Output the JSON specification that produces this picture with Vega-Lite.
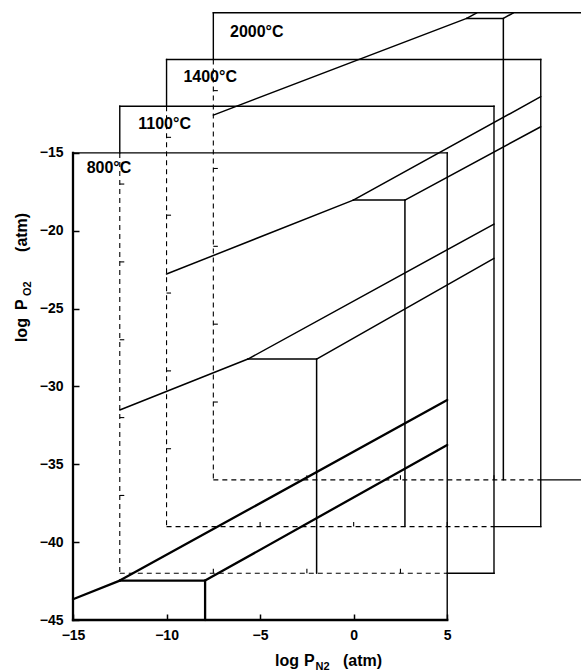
{
  "$schema": "https://vega.github.io/schema/vega-lite/v6.json",
  "width": 508,
  "height": 615,
  "autosize": {"type": "none"},
  "padding": {"left": 73, "top": 5, "right": 0, "bottom": 51},
  "background": "white",
  "config": {
    "view": {"stroke": null},
    "axis": {
      "domain": false,
      "grid": false,
      "tickColor": "black",
      "tickWidth": 1.5,
      "tickSize": -6,
      "labelFont": "Liberation Sans",
      "labelFontSize": 14,
      "labelFontWeight": "bold",
      "labelColor": "black",
      "labelOverlap": false,
      "labelFlush": false
    }
  },
  "datasets": {
    "hidden": [
      {"x": -12.5, "y": -15, "x2": -12.5, "y2": -42},
      {"x": -12.5, "y": -42, "x2": 5, "y2": -42},
      {"x": -10, "y": -12, "x2": -10, "y2": -39},
      {"x": -10, "y": -39, "x2": 7.5, "y2": -39},
      {"x": -7.5, "y": -9, "x2": -7.5, "y2": -36},
      {"x": -7.5, "y": -36, "x2": 10, "y2": -36}
    ],
    "visible": [
      {"x": -15, "y": -15, "x2": 5, "y2": -15},
      {"x": 5, "y": -15, "x2": 5, "y2": -45},
      {"x": -12.5, "y": -12, "x2": -12.5, "y2": -15},
      {"x": -12.5, "y": -12, "x2": 7.5, "y2": -12},
      {"x": 7.5, "y": -12, "x2": 7.5, "y2": -42},
      {"x": 5, "y": -42, "x2": 7.5, "y2": -42},
      {"x": -10, "y": -9, "x2": -10, "y2": -12},
      {"x": -10, "y": -9, "x2": 10, "y2": -9},
      {"x": 10, "y": -9, "x2": 10, "y2": -39},
      {"x": 7.5, "y": -39, "x2": 10, "y2": -39},
      {"x": -7.5, "y": -6, "x2": -7.5, "y2": -9},
      {"x": -7.5, "y": -6, "x2": 12.5, "y2": -6},
      {"x": 10, "y": -36, "x2": 12.5, "y2": -36}
    ],
    "frontAxes": [
      {"x": -15, "y": -45, "x2": -15, "y2": -15},
      {"x": -15, "y": -45, "x2": 5, "y2": -45}
    ],
    "phaseFront": [
      {"x": -15, "y": -43.67, "x2": -12.5, "y2": -42.47},
      {"x": -12.5, "y": -42.47, "x2": 5, "y2": -30.87},
      {"x": -12.5, "y": -42.47, "x2": -7.94, "y2": -42.47},
      {"x": -7.94, "y": -42.47, "x2": -7.94, "y2": -45},
      {"x": -7.94, "y": -42.47, "x2": 5, "y2": -33.76}
    ],
    "phaseBack": [
      {"x": -12.5, "y": -31.51, "x2": -5.65, "y2": -28.24},
      {"x": -5.65, "y": -28.24, "x2": 7.5, "y2": -19.57},
      {"x": -5.65, "y": -28.24, "x2": -1.98, "y2": -28.24},
      {"x": -1.98, "y": -28.24, "x2": -1.98, "y2": -42},
      {"x": -1.98, "y": -28.24, "x2": 7.5, "y2": -21.77},
      {"x": -10, "y": -22.78, "x2": -0.02, "y2": -18.03},
      {"x": -0.02, "y": -18.03, "x2": 10, "y2": -11.39},
      {"x": -0.02, "y": -18.03, "x2": 2.74, "y2": -18.03},
      {"x": 2.74, "y": -18.03, "x2": 2.74, "y2": -39},
      {"x": 2.74, "y": -18.03, "x2": 10, "y2": -13.32},
      {"x": -7.5, "y": -12.57, "x2": 6.04, "y2": -6.36},
      {"x": 6.04, "y": -6.36, "x2": 6.58, "y2": -6},
      {"x": 6.04, "y": -6.36, "x2": 8.0, "y2": -6.36},
      {"x": 8.0, "y": -6.36, "x2": 8.0, "y2": -36},
      {"x": 8.0, "y": -6.36, "x2": 8.54, "y2": -6}
    ],
    "leftTicks": [
      {"x": -12.5, "y": -17}, {"x": -12.5, "y": -22}, {"x": -12.5, "y": -27}, {"x": -12.5, "y": -32}, {"x": -12.5, "y": -37},
      {"x": -10, "y": -14}, {"x": -10, "y": -19}, {"x": -10, "y": -24}, {"x": -10, "y": -29}, {"x": -10, "y": -34},
      {"x": -7.5, "y": -11}, {"x": -7.5, "y": -16}, {"x": -7.5, "y": -21}, {"x": -7.5, "y": -26}, {"x": -7.5, "y": -31}
    ],
    "bottomTicks": [
      {"x": -7.5, "y": -42}, {"x": -2.5, "y": -42}, {"x": 2.5, "y": -42},
      {"x": -5, "y": -39}, {"x": 0, "y": -39}, {"x": 5, "y": -39},
      {"x": -2.5, "y": -36}, {"x": 2.5, "y": -36}, {"x": 7.5, "y": -36}
    ],
    "panelLabels": [
      {"t": "800°C", "x": -14.27, "y": -16.32},
      {"t": "1100°C", "x": -11.51, "y": -13.48},
      {"t": "1400°C", "x": -9.1, "y": -10.43},
      {"t": "2000°C", "x": -6.61, "y": -7.58}
    ],
    "xTitleMain": [
      {"t": "log", "x": -4.204, "y": -47.954},
      {"t": "P", "x": -2.654, "y": -47.954},
      {"t": "(atm)", "x": -0.569, "y": -47.954}
    ],
    "xTitleSub": [
      {"t": "N2", "x": -2.04, "y": -48.18}
    ],
    "yTitleMain": [
      {"t": "log", "x": -17.46, "y": -27.15},
      {"t": "P", "x": -17.46, "y": -25.09},
      {"t": "(atm)", "x": -17.46, "y": -21.36}
    ],
    "yTitleSub": [
      {"t": "O2", "x": -17.27, "y": -24.19}
    ]
  },
  "encoding": {
    "x": {
      "field": "x",
      "type": "quantitative",
      "scale": {"domain": [-15, 12.15], "nice": false, "zero": false},
      "axis": {"title": null, "values": [-15, -10, -5, 0, 5], "labelPadding": 14}
    },
    "y": {
      "field": "y",
      "type": "quantitative",
      "scale": {"domain": [-45, -5.5], "nice": false, "zero": false},
      "axis": {"title": null, "values": [-15, -20, -25, -30, -35, -40, -45], "labelPadding": 16}
    }
  },
  "layer": [
    {
      "data": {"name": "hidden"},
      "mark": {"type": "rule", "color": "black", "strokeWidth": 1.1, "strokeDash": [5, 4]},
      "encoding": {"x2": {"field": "x2"}, "y2": {"field": "y2"}}
    },
    {
      "data": {"name": "visible"},
      "mark": {"type": "rule", "color": "black", "strokeWidth": 1.4, "strokeCap": "square"},
      "encoding": {"x2": {"field": "x2"}, "y2": {"field": "y2"}}
    },
    {
      "data": {"name": "frontAxes"},
      "mark": {"type": "rule", "color": "black", "strokeWidth": 2.3, "strokeCap": "square"},
      "encoding": {"x2": {"field": "x2"}, "y2": {"field": "y2"}}
    },
    {
      "data": {"name": "phaseFront"},
      "mark": {"type": "rule", "color": "black", "strokeWidth": 2.3, "strokeCap": "round"},
      "encoding": {"x2": {"field": "x2"}, "y2": {"field": "y2"}}
    },
    {
      "data": {"name": "phaseBack"},
      "mark": {"type": "rule", "color": "black", "strokeWidth": 1.5, "strokeCap": "round"},
      "encoding": {"x2": {"field": "x2"}, "y2": {"field": "y2"}}
    },
    {
      "data": {"name": "leftTicks"},
      "mark": {"type": "point", "shape": "M0,0H1", "size": 81, "filled": false, "stroke": "black", "strokeWidth": 1.1, "opacity": 1}
    },
    {
      "data": {"name": "bottomTicks"},
      "mark": {"type": "point", "shape": "M0,0V-1", "size": 81, "filled": false, "stroke": "black", "strokeWidth": 1.1, "opacity": 1}
    },
    {
      "data": {"name": "panelLabels"},
      "mark": {"type": "text", "align": "left", "baseline": "alphabetic", "font": "Liberation Sans", "fontSize": 16, "fontWeight": "bold", "color": "black"},
      "encoding": {"text": {"field": "t"}}
    },
    {
      "data": {"name": "xTitleMain"},
      "mark": {"type": "text", "align": "left", "baseline": "alphabetic", "font": "Liberation Sans", "fontSize": 16, "fontWeight": "bold", "color": "black"},
      "encoding": {"text": {"field": "t"}}
    },
    {
      "data": {"name": "xTitleSub"},
      "mark": {"type": "text", "align": "left", "baseline": "alphabetic", "font": "Liberation Sans", "fontSize": 11, "fontWeight": "bold", "color": "black"},
      "encoding": {"text": {"field": "t"}}
    },
    {
      "data": {"name": "yTitleMain"},
      "mark": {"type": "text", "align": "left", "baseline": "alphabetic", "angle": 270, "font": "Liberation Sans", "fontSize": 16, "fontWeight": "bold", "color": "black"},
      "encoding": {"text": {"field": "t"}}
    },
    {
      "data": {"name": "yTitleSub"},
      "mark": {"type": "text", "align": "left", "baseline": "alphabetic", "angle": 270, "font": "Liberation Sans", "fontSize": 11, "fontWeight": "bold", "color": "black"},
      "encoding": {"text": {"field": "t"}}
    }
  ]
}
